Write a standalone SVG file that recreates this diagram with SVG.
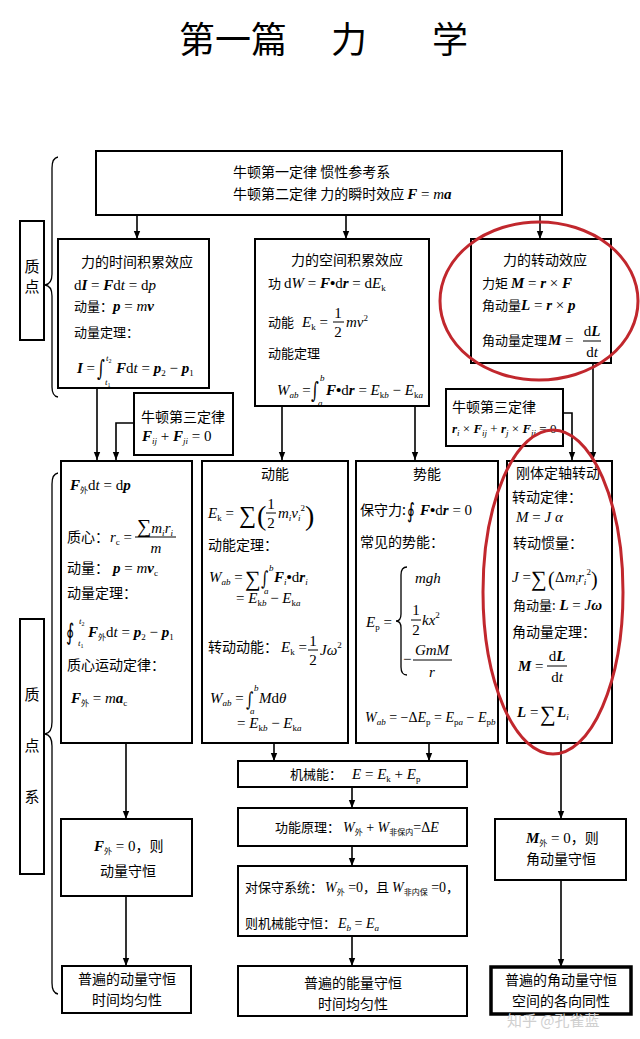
<svg xmlns="http://www.w3.org/2000/svg" width="640" height="1039" viewBox="0 0 640 1039">
<defs>
<style>
.bx{fill:#fff;stroke:#000;stroke-width:2}
.cn{font-family:"Noto Sans CJK SC",sans-serif;font-size:14px;fill:#000}
.c13{font-family:"Noto Sans CJK SC",sans-serif;font-size:13px;font-style:normal;font-weight:normal}
.m{font-family:"Liberation Serif","DejaVu Serif",serif;font-size:15px;fill:#000}
.int{font-family:"DejaVu Serif",serif;font-style:normal;font-weight:normal;font-size:15px;fill:#000}
.i{font-style:italic}
.b{font-weight:bold}
.sb{font-size:9px}
.sc{font-family:"Noto Sans CJK SC",sans-serif;font-size:8px;font-style:normal;font-weight:normal}
.ln{stroke:#000;stroke-width:1.6;fill:none}
.fr{stroke:#000;stroke-width:1}
.br{stroke:#000;stroke-width:1.3;fill:none}
.red{fill:none;stroke:#c1272d;stroke-width:3}
.ttl{font-family:"Noto Sans CJK SC",sans-serif;font-size:36px;fill:#000}
</style>
<marker id="ah" viewBox="0 0 10 10" refX="10" refY="5" markerWidth="8" markerHeight="8" markerUnits="userSpaceOnUse" orient="auto"><path d="M0,1 L10,5 L0,9 z" fill="#000"/></marker>
</defs>
<rect width="640" height="1039" fill="#fff"/>

<g id="title">
<text class="ttl" x="179" y="53">第一篇</text>
<text class="ttl" x="331" y="53">力</text>
<text class="ttl" x="432" y="53">学</text>
</g>

<g id="connectors">
<line class="ln" x1="137" y1="215" x2="137" y2="239" marker-end="url(#ah)"/>
<line class="ln" x1="346" y1="215" x2="346" y2="239" marker-end="url(#ah)"/>
<line class="ln" x1="540" y1="215" x2="540" y2="239" marker-end="url(#ah)"/>
<line class="ln" x1="97" y1="388" x2="97" y2="460" marker-end="url(#ah)"/>
<path class="ln" d="M134,423 H116 V460" marker-end="url(#ah)"/>
<line class="ln" x1="282" y1="406" x2="282" y2="460" marker-end="url(#ah)"/>
<line class="ln" x1="415" y1="406" x2="415" y2="460" marker-end="url(#ah)"/>
<path class="ln" d="M563,413 H572 V460" marker-end="url(#ah)"/>
<line class="ln" x1="593" y1="363" x2="593" y2="460" marker-end="url(#ah)"/>
<line class="ln" x1="126" y1="743" x2="126" y2="819" marker-end="url(#ah)"/>
<line class="ln" x1="126" y1="896" x2="126" y2="966" marker-end="url(#ah)"/>
<line class="ln" x1="274" y1="743" x2="274" y2="761" marker-end="url(#ah)"/>
<line class="ln" x1="429" y1="743" x2="429" y2="761" marker-end="url(#ah)"/>
<line class="ln" x1="352" y1="787" x2="352" y2="808" marker-end="url(#ah)"/>
<line class="ln" x1="352" y1="846" x2="352" y2="866" marker-end="url(#ah)"/>
<line class="ln" x1="352" y1="936" x2="352" y2="966" marker-end="url(#ah)"/>
<line class="ln" x1="561" y1="743" x2="561" y2="819" marker-end="url(#ah)"/>
<line class="ln" x1="561" y1="880" x2="561" y2="967" marker-end="url(#ah)"/>
</g>

<g id="brace-zhidian">
<path class="br" d="M58,157 Q52,158 52,168 L52,274 Q52,284 45,285 Q52,286 52,296 L52,387 Q52,396 58,397"/>
<rect class="bx" x="20" y="221" width="24" height="119"/>
<text class="cn" x="32" y="272" text-anchor="middle" style="font-size:15px">质</text>
<text class="cn" x="32" y="292" text-anchor="middle" style="font-size:15px">点</text>
</g>

<g id="brace-zhidianxi">
<path class="br" d="M58,473 Q52,474 52,484 L52,722 Q52,733 45,734 Q52,735 52,746 L52,983 Q52,993 58,994"/>
<rect class="bx" x="20" y="619" width="24" height="255"/>
<text class="cn" x="32" y="700" text-anchor="middle" style="font-size:15px">质</text>
<text class="cn" x="32" y="751" text-anchor="middle" style="font-size:15px">点</text>
<text class="cn" x="32" y="802" text-anchor="middle" style="font-size:15px">系</text>
</g>

<g id="n-top">
<rect class="bx" x="96" y="151" width="466" height="64"/>
<text class="cn" x="233" y="177">牛顿第一定律 惯性参考系</text>
<text class="cn" x="233" y="199">牛顿第二定律 力的瞬时效应 <tspan class="m b i">F</tspan><tspan class="m"> = </tspan><tspan class="m i">m</tspan><tspan class="m b i">a</tspan></text>
</g>

<g id="n-time">
<rect class="bx" x="58" y="239" width="151" height="149"/>
<text class="cn" x="137" y="267" text-anchor="middle">力的时间积累效应</text>
<text class="m" x="74" y="290">d<tspan class="b i">I</tspan> = <tspan class="b i">F</tspan>d<tspan class="i">t</tspan> = d<tspan class="i">p</tspan></text>
<text class="c13" x="74" y="311">动量：<tspan class="m b i">p</tspan><tspan class="m"> = </tspan><tspan class="m i">m</tspan><tspan class="m b i">v</tspan></text>
<text class="c13" x="74" y="337">动量定理：</text>
<text class="m" x="77" y="373"><tspan class="b i">I</tspan> =</text>
<text class="int" transform="translate(97,376) scale(1,1.5)">∫</text>
<text class="m" x="106" y="361" style="font-size:9px"><tspan class="i">t</tspan><tspan dy="2" style="font-size:6px">2</tspan></text>
<text class="m" x="105" y="385" style="font-size:9px"><tspan class="i">t</tspan><tspan dy="2" style="font-size:6px">1</tspan></text>
<text class="m" x="116" y="373"><tspan class="b i">F</tspan>d<tspan class="i">t</tspan> = <tspan class="b i">p</tspan><tspan dy="3" class="sb">2</tspan><tspan dy="-3"> − </tspan><tspan class="b i">p</tspan><tspan dy="3" class="sb">1</tspan></text>
</g>

<g id="n-space">
<rect class="bx" x="255" y="239" width="174" height="167"/>
<text class="cn" x="347" y="265" text-anchor="middle">力的空间积累效应</text>
<text class="c13" x="268" y="288">功 <tspan class="m">d</tspan><tspan class="m i">W</tspan><tspan class="m"> = </tspan><tspan class="m b i">F</tspan><tspan class="m b">•</tspan><tspan class="m">d</tspan><tspan class="m b i">r</tspan><tspan class="m"> = d</tspan><tspan class="m i">E</tspan><tspan class="m" dy="3" style="font-size:9px">k</tspan></text>
<text class="c13" x="268" y="327">动能</text>
<text class="m" x="302" y="327"><tspan class="i">E</tspan><tspan dy="3" class="sb">k</tspan><tspan dy="-3"> =</tspan></text>
<text class="m" x="338" y="318" text-anchor="middle">1</text>
<line class="fr" x1="333" y1="322" x2="344" y2="322"/>
<text class="m" x="338" y="337" text-anchor="middle">2</text>
<text class="m i" x="346" y="327">mv<tspan dy="-6" class="sb" style="font-style:normal">2</tspan></text>
<text class="c13" x="268" y="358">动能定理</text>
<text class="m" x="277" y="395"><tspan class="i">W</tspan><tspan dy="3" class="sb i">ab</tspan><tspan dy="-3"> =</tspan></text>
<text class="int" transform="translate(311,398) scale(1,1.5)">∫</text>
<text class="m i" x="320" y="381" style="font-size:9px">b</text>
<text class="m i" x="318" y="406" style="font-size:9px">a</text>
<text class="m" x="326" y="395"><tspan class="b i">F</tspan><tspan class="b">•</tspan>d<tspan class="b i">r</tspan> = <tspan class="i">E</tspan><tspan dy="3" class="sb">k<tspan class="i">b</tspan></tspan><tspan dy="-3"> − </tspan><tspan class="i">E</tspan><tspan dy="3" class="sb">k<tspan class="i">a</tspan></tspan></text>
</g>

<g id="n-rot">
<rect class="bx" x="471" y="239" width="140" height="124"/>
<text class="cn" x="545" y="265" text-anchor="middle">力的转动效应</text>
<text class="c13" x="482" y="288">力矩 <tspan class="m b i">M</tspan><tspan class="m"> = </tspan><tspan class="m b i">r</tspan><tspan class="m"> × </tspan><tspan class="m b i">F</tspan></text>
<text class="c13" x="482" y="310">角动量<tspan class="m b i">L</tspan><tspan class="m"> = </tspan><tspan class="m b i">r</tspan><tspan class="m"> × </tspan><tspan class="m b i">p</tspan></text>
<text class="c13" x="482" y="345">角动量定理</text>
<text class="m" x="548" y="345"><tspan class="b i">M</tspan> =</text>
<text class="m" x="592" y="336" text-anchor="middle">d<tspan class="b i">L</tspan></text>
<line class="fr" x1="583" y1="341" x2="601" y2="341"/>
<text class="m" x="592" y="357" text-anchor="middle">d<tspan class="i">t</tspan></text>
</g>

<g id="n-third-1">
<rect class="bx" x="134" y="393" width="99" height="62"/>
<text class="cn" x="141" y="422">牛顿第三定律</text>
<text class="m" x="142" y="441"><tspan class="b i">F</tspan><tspan dy="3" class="sb i">ij</tspan><tspan dy="-3"> + </tspan><tspan class="b i">F</tspan><tspan dy="3" class="sb i">ji</tspan><tspan dy="-3"> = 0</tspan></text>
</g>

<g id="n-third-2">
<rect class="bx" x="446" y="389" width="117" height="57"/>
<text class="cn" x="452" y="412">牛顿第三定律</text>
<text class="m" x="452" y="433" style="font-size:13px"><tspan class="b i">r</tspan><tspan dy="3" class="sb i">i</tspan><tspan dy="-3"> × </tspan><tspan class="b i">F</tspan><tspan dy="3" class="sb i">ij</tspan><tspan dy="-3"> + </tspan><tspan class="b i">r</tspan><tspan dy="3" class="sb i">j</tspan><tspan dy="-3"> × </tspan><tspan class="b i">F</tspan><tspan dy="3" class="sb i">ji</tspan><tspan dy="-3"> = 0</tspan></text>
</g>

<g id="n-momentum">
<rect class="bx" x="61" y="461" width="131" height="282"/>
<text class="m" x="70" y="490"><tspan class="b i">F</tspan><tspan dy="3" class="sc">外</tspan><tspan dy="-3">d</tspan><tspan class="i">t</tspan> = d<tspan class="b i">p</tspan></text>
<text class="cn" x="67" y="542">质心：</text>
<text class="m i" x="110" y="542">r<tspan dy="3" class="sb" style="font-style:normal">c</tspan><tspan dy="-3" style="font-style:normal"> =</tspan></text>
<text class="m" x="137" y="533"><tspan style="font-size:20px">∑</tspan><tspan class="i">m</tspan><tspan dy="3" class="sb i">i</tspan><tspan dy="-3" class="i">r</tspan><tspan dy="3" class="sb i">i</tspan></text>
<line class="fr" x1="135" y1="537" x2="176" y2="537"/>
<text class="m i" x="156" y="553" text-anchor="middle">m</text>
<text class="cn" x="67" y="573">动量：</text>
<text class="m" x="113" y="573"><tspan class="b i">p</tspan> = <tspan class="i">m</tspan><tspan class="b i">v</tspan><tspan dy="3" class="sb">c</tspan></text>
<text class="cn" x="67" y="598">动量定理：</text>
<text class="int" transform="translate(66,640) scale(1,1.45)" style="font-size:16px">∮</text>
<text class="m" x="79" y="624" style="font-size:9px"><tspan class="i">t</tspan><tspan dy="2" style="font-size:6px">2</tspan></text>
<text class="m" x="78" y="646" style="font-size:9px"><tspan class="i">t</tspan><tspan dy="2" style="font-size:6px">1</tspan></text>
<text class="m" x="88" y="637"><tspan class="b i">F</tspan><tspan dy="3" class="sc">外</tspan><tspan dy="-3">d</tspan><tspan class="i">t</tspan> = <tspan class="b i">p</tspan><tspan dy="3" class="sb">2</tspan><tspan dy="-3"> − </tspan><tspan class="b i">p</tspan><tspan dy="3" class="sb">1</tspan></text>
<text class="cn" x="67" y="670">质心运动定律：</text>
<text class="m" x="71" y="703"><tspan class="b i">F</tspan><tspan dy="3" class="sc">外</tspan><tspan dy="-3"> = </tspan><tspan class="i">m</tspan><tspan class="b i">a</tspan><tspan dy="3" class="sb">c</tspan></text>
</g>

<g id="n-kinetic">
<rect class="bx" x="202" y="461" width="146" height="282"/>
<text class="cn" x="275" y="479" text-anchor="middle">动能</text>
<text class="m" x="208" y="518"><tspan class="i">E</tspan><tspan dy="3" class="sb">k</tspan><tspan dy="-3"> =</tspan></text>
<text class="m" x="239" y="523" style="font-size:24px">∑</text>
<text class="m" x="257" y="525" style="font-size:28px">(</text>
<text class="m" x="271" y="509" text-anchor="middle">1</text>
<line class="fr" x1="266" y1="513" x2="276" y2="513"/>
<text class="m" x="271" y="528" text-anchor="middle">2</text>
<text class="m i" x="278" y="518">m<tspan dy="3" class="sb">i</tspan><tspan dy="-3">v</tspan><tspan dy="3" class="sb">i</tspan><tspan dy="-10" class="sb" style="font-style:normal">2</tspan></text>
<text class="m" x="305" y="525" style="font-size:28px">)</text>
<text class="cn" x="208" y="550">动能定理：</text>
<text class="m" x="209" y="582"><tspan class="i">W</tspan><tspan dy="3" class="sb i">ab</tspan><tspan dy="-3"> =</tspan></text>
<text class="m" x="245" y="586" style="font-size:22px">∑</text>
<text class="int" transform="translate(261,585) scale(1,1.4)" style="font-size:14px">∫</text>
<text class="m i" x="269" y="571" style="font-size:9px">b</text>
<text class="m i" x="264" y="594" style="font-size:9px">a</text>
<text class="m" x="274" y="582"><tspan class="b i">F</tspan><tspan dy="3" class="sb i">i</tspan><tspan dy="-3" class="b">•</tspan>d<tspan class="b i">r</tspan><tspan dy="3" class="sb i">i</tspan></text>
<text class="m" x="236" y="603">= <tspan class="i">E</tspan><tspan dy="3" class="sb">k<tspan class="i">b</tspan></tspan><tspan dy="-3"> − </tspan><tspan class="i">E</tspan><tspan dy="3" class="sb">k<tspan class="i">a</tspan></tspan></text>
<text class="cn" x="208" y="652">转动动能：</text>
<text class="m" x="281" y="652"><tspan class="i">E</tspan><tspan dy="3" class="sb">k</tspan><tspan dy="-3"> =</tspan></text>
<text class="m" x="313" y="646" text-anchor="middle">1</text>
<line class="fr" x1="308" y1="650" x2="318" y2="650"/>
<text class="m" x="313" y="665" text-anchor="middle">2</text>
<text class="m i" x="320" y="655">Jω<tspan dy="-7" class="sb" style="font-style:normal">2</tspan></text>
<text class="m" x="210" y="703"><tspan class="i">W</tspan><tspan dy="3" class="sb i">ab</tspan><tspan dy="-3"> =</tspan></text>
<text class="int" transform="translate(246,706) scale(1,1.4)" style="font-size:14px">∫</text>
<text class="m i" x="254" y="691" style="font-size:9px">b</text>
<text class="m i" x="250" y="714" style="font-size:9px">a</text>
<text class="m" x="259" y="703"><tspan class="i">M</tspan>d<tspan class="i">θ</tspan></text>
<text class="m" x="237" y="728">= <tspan class="i">E</tspan><tspan dy="3" class="sb">k<tspan class="i">b</tspan></tspan><tspan dy="-3"> − </tspan><tspan class="i">E</tspan><tspan dy="3" class="sb">k<tspan class="i">a</tspan></tspan></text>
</g>

<g id="n-potential">
<rect class="bx" x="356" y="461" width="142" height="282"/>
<text class="cn" x="427" y="479" text-anchor="middle">势能</text>
<text class="cn" x="360" y="515">保守力:</text>
<text class="int" transform="translate(407,518) scale(1,1.4)" style="font-size:15px">∮</text>
<text class="m" x="420" y="515"><tspan class="b i">F</tspan><tspan class="b">•</tspan>d<tspan class="b i">r</tspan> = 0</text>
<text class="cn" x="360" y="547">常见的势能：</text>
<text class="m" x="366" y="627"><tspan class="i">E</tspan><tspan dy="3" class="sb">p</tspan><tspan dy="-3"> =</tspan></text>
<path class="br" d="M407,567 Q401,567 401,575 L401,614 Q401,621 396,621 Q401,621 401,628 L401,667 Q401,675 407,675"/>
<text class="m i" x="415" y="583">mgh</text>
<text class="m" x="416" y="615" text-anchor="middle">1</text>
<line class="fr" x1="411" y1="620" x2="421" y2="620"/>
<text class="m" x="416" y="635" text-anchor="middle">2</text>
<text class="m i" x="422" y="625">kx<tspan dy="-7" class="sb" style="font-style:normal">2</tspan></text>
<text class="m" x="403" y="664">−</text>
<text class="m i" x="432" y="655" text-anchor="middle">GmM</text>
<line class="fr" x1="413" y1="660" x2="452" y2="660"/>
<text class="m i" x="432" y="677" text-anchor="middle">r</text>
<text class="m" x="365" y="722" style="font-size:14px"><tspan class="i">W</tspan><tspan dy="3" class="sb i">ab</tspan><tspan dy="-3"> = −Δ</tspan><tspan class="i">E</tspan><tspan dy="3" class="sb">p</tspan><tspan dy="-3"> = </tspan><tspan class="i">E</tspan><tspan dy="3" class="sb">p<tspan class="i">a</tspan></tspan><tspan dy="-3"> − </tspan><tspan class="i">E</tspan><tspan dy="3" class="sb">p<tspan class="i">b</tspan></tspan></text>
</g>

<g id="n-rigid">
<rect class="bx" x="507" y="461" width="105" height="282"/>
<text class="cn" x="516" y="478">刚体定轴转动</text>
<text class="cn" x="512" y="502">转动定律：</text>
<text class="m i" x="516" y="522">M<tspan style="font-style:normal"> = </tspan>J α</text>
<text class="cn" x="513" y="548">转动惯量：</text>
<text class="m" x="512" y="582"><tspan class="i">J</tspan> =</text>
<text class="m" x="531" y="586" style="font-size:22px">∑</text>
<text class="m" x="548" y="586" style="font-size:20px">(</text>
<text class="m" x="555" y="582">Δ<tspan class="i">m</tspan><tspan dy="3" class="sb i">i</tspan><tspan dy="-3" class="i">r</tspan><tspan dy="3" class="sb i">i</tspan><tspan dy="-10" class="sb">2</tspan></text>
<text class="m" x="591" y="586" style="font-size:20px">)</text>
<text class="c13" x="513" y="610">角动量:<tspan class="m b i"> L</tspan><tspan class="m"> = </tspan><tspan class="m i">J</tspan><tspan class="m b i">ω</tspan></text>
<text class="cn" x="512" y="637">角动量定理：</text>
<text class="m" x="518" y="671"><tspan class="b i">M</tspan> =</text>
<text class="m" x="557" y="661" text-anchor="middle">d<tspan class="b i">L</tspan></text>
<line class="fr" x1="547" y1="666" x2="567" y2="666"/>
<text class="m" x="557" y="682" text-anchor="middle">d<tspan class="i">t</tspan></text>
<text class="m" x="517" y="717"><tspan class="b i">L</tspan> =</text>
<text class="m" x="540" y="721" style="font-size:22px">∑</text>
<text class="m" x="557" y="717"><tspan class="b i">L</tspan><tspan dy="3" class="sb i">i</tspan></text>
</g>

<g id="n-mech">
<rect class="bx" x="238" y="761" width="229" height="26"/>
<text class="c13" x="290" y="779">机械能：</text>
<text class="m" x="352" y="779"><tspan class="i">E</tspan> = <tspan class="i">E</tspan><tspan dy="3" class="sb">k</tspan><tspan dy="-3"> + </tspan><tspan class="i">E</tspan><tspan dy="3" class="sb">p</tspan></text>
</g>

<g id="n-workenergy">
<rect class="bx" x="238" y="808" width="229" height="38"/>
<text class="c13" x="275" y="832">功能原理：</text>
<text class="m" x="343" y="832" style="font-size:14px"><tspan class="i">W</tspan><tspan dy="3" class="sc">外</tspan><tspan dy="-3"> + </tspan><tspan class="i">W</tspan><tspan dy="3" class="sc">非保内</tspan><tspan dy="-3">=Δ</tspan><tspan class="i">E</tspan></text>
</g>

<g id="n-conserve">
<rect class="bx" x="238" y="866" width="229" height="70"/>
<text class="c13" x="245" y="892">对保守系统：</text>
<text class="m" x="325" y="892" style="font-size:14px"><tspan class="i">W</tspan><tspan dy="3" class="sc">外</tspan><tspan dy="-3"> =0</tspan><tspan class="c13">，且 </tspan><tspan class="i">W</tspan><tspan dy="3" class="sc">非内保</tspan><tspan dy="-3"> =0</tspan><tspan class="c13">，</tspan></text>
<text class="c13" x="245" y="928">则机械能守恒：</text>
<text class="m" x="338" y="928" style="font-size:14px"><tspan class="i">E</tspan><tspan dy="3" class="sb i">b</tspan><tspan dy="-3"> = </tspan><tspan class="i">E</tspan><tspan dy="3" class="sb i">a</tspan></text>
</g>

<g id="n-pcons">
<rect class="bx" x="61" y="819" width="131" height="77"/>
<text class="m" x="94" y="851"><tspan class="b i">F</tspan><tspan dy="3" class="sc">外</tspan><tspan dy="-3"> = 0</tspan><tspan class="c13" style="font-size:14px">，则</tspan></text>
<text class="cn" x="128" y="876" text-anchor="middle">动量守恒</text>
</g>

<g id="n-pcons-u">
<rect class="bx" x="62" y="966" width="129" height="47"/>
<text class="cn" x="127" y="984" text-anchor="middle">普遍的动量守恒</text>
<text class="cn" x="127" y="1005" text-anchor="middle">时间均匀性</text>
</g>

<g id="n-econs-u">
<rect class="bx" x="238" y="966" width="229" height="50"/>
<text class="cn" x="353" y="988" text-anchor="middle">普遍的能量守恒</text>
<text class="cn" x="353" y="1009" text-anchor="middle">时间均匀性</text>
</g>

<g id="n-lcons">
<rect class="bx" x="495" y="819" width="131" height="61"/>
<text class="m" x="526" y="843"><tspan class="b i">M</tspan><tspan dy="3" class="sc">外</tspan><tspan dy="-3"> = 0</tspan><tspan class="c13" style="font-size:14px">，则</tspan></text>
<text class="cn" x="526" y="864">角动量守恒</text>
</g>

<g id="n-lcons-u">
<rect x="491" y="967" width="140" height="47" fill="#fff" stroke="#000" stroke-width="3.5"/>
<text class="cn" x="561" y="985" text-anchor="middle">普遍的角动量守恒</text>
<text class="cn" x="561" y="1006" text-anchor="middle">空间的各向同性</text>
</g>

<g id="highlights">
<ellipse class="red" cx="539" cy="301" rx="99" ry="79"/>
<ellipse class="red" cx="553" cy="592" rx="70" ry="162"/>
</g>

<text x="507" y="1026" style="font-family:'Noto Sans CJK SC',sans-serif;font-size:15px;fill:#cfcfcf">知乎 @孔雀蓝</text>
</svg>
